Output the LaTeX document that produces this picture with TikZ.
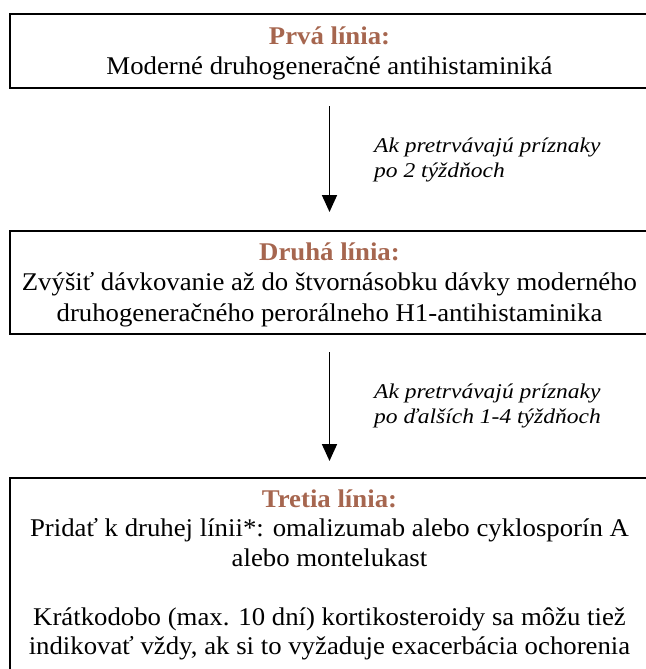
\documentclass[tikz,border=0pt]{standalone}
\usepackage{fontspec}
\setmainfont{Liberation Serif}[FakeStretch=1.05]
\newfontfamily\notefont{Liberation Serif}[FakeStretch=1.12]
\usetikzlibrary{arrows.meta}
\definecolor{titlebrown}{RGB}{166,102,79}
\tikzset{
  box/.style={draw=black, line width=2pt, rectangle, minimum width=639pt, inner sep=0pt},
  boxtext/.style={align=center, inner sep=0pt, font=\fontsize{25.5}{30.5}\selectfont},
  note/.style={align=left, anchor=west, inner sep=0pt, font=\notefont\fontsize{21}{25}\selectfont\itshape},
  flow/.style={-{Triangle[length=17pt,width=15pt]}, line width=1.8pt},
}
\begin{document}
\begin{tikzpicture}[x=1pt,y=-1pt]
\useasboundingbox (0,0) rectangle (645,669);
% boxes
\node[box, minimum height=74pt] (b1) at (329.5,51) {};
\node[box, minimum height=103pt] (b2) at (329.5,282.5) {};
\node[box, minimum height=230pt] (b3) at (329.5,593) {};
% texts
\node[boxtext] (t1) at (329.5,53.5) {{\color{titlebrown}\bfseries Prvá línia:}\\Moderné druhogeneračné antihistaminiká};
\node[boxtext] (t2) at (329.5,284.5) {{\color{titlebrown}\bfseries Druhá línia:}\\Zvýšiť dávkovanie až do štvornásobku dávky moderného\\druhogeneračného perorálneho H1-antihistaminika};
\node[boxtext, font=\fontsize{25.5}{29.5}\selectfont] (t3) at (329.5,575) {{\color{titlebrown}\bfseries Tretia línia:}\\Pridať k druhej línii*: omalizumab alebo cyklosporín A\\alebo montelukast\\[29.5pt]Krátkodobo (max. 10 dní) kortikosteroidy sa môžu tiež\\indikovať vždy, ak si to vyžaduje exacerbácia ochorenia};
% arrows
\draw[flow, shorten <=17pt, shorten >=18pt] (b1) -- (b2);
\draw[flow, shorten <=17pt, shorten >=16pt] (b2) -- (b3);
% notes
\node[note] (n1) at (374,160) {Ak pretrvávajú príznaky\\po 2 týždňoch};
\node[note] (n2) at (374,406) {Ak pretrvávajú príznaky\\po ďalších 1-4 týždňoch};
\end{tikzpicture}
\end{document}
